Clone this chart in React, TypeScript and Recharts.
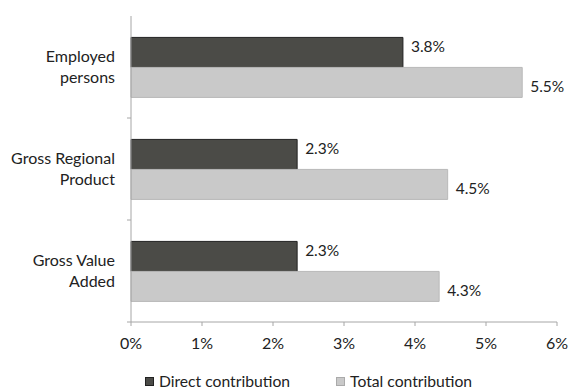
import { Bar, BarChart, LabelList, Legend, XAxis, YAxis } from 'recharts';

const categories = ['Employed\npersons', 'Gross Regional\nProduct', 'Gross Value\nAdded'];
const directContribution = [3.83, 2.34, 2.34];
const totalContribution = [5.51, 4.46, 4.34];
const xTicks = [0, 1, 2, 3, 4, 5, 6];

const data = categories.map((name, i) => ({
	name,
	direct: directContribution[i],
	total: totalContribution[i],
}));

const FONT = 'Lato, "Open Sans", sans-serif';
const TEXT = '#222';
const AXIS = '#a6a6a6';
const DARK = '#4b4b47';
const LIGHT = '#c9c9c9';

function CategoryTick(props: any) {
	const { x, y, payload } = props;
	const lines = String(payload.value).split('\n');
	const off = payload.offset ?? 0;
	return (
		<g>
			<line x1={x + 4} x2={x + 8} y1={y + off} y2={y + off} stroke={AXIS} />
			<text x={x - 8} y={y} textAnchor="end" fill={TEXT} fontSize={16} fontFamily={FONT}>
				{lines.map((l, i) => (
					<tspan key={i} x={x - 8} dy={i === 0 ? -(lines.length - 1) * 10.5 + 5 : 21}>
						{l}
					</tspan>
				))}
			</text>
		</g>
	);
}

function makeLabel(dy: number) {
	return (props: any) => {
		const { x, y, width, height, value } = props;
		return (
			<text
				x={x + width + 8}
				y={y + height / 2 + dy}
				dominantBaseline="central"
				fill={TEXT}
				fontSize={15.5}
				fontFamily={FONT}
			>
				{`${Number(value).toFixed(1)}%`}
			</text>
		);
	};
}

function LegendBox() {
	const items = [
		{ label: 'Direct contribution', color: DARK, border: '#222' },
		{ label: 'Total contribution', color: LIGHT, border: '#aaa' },
	];
	return (
		<div
			style={{
				display: 'flex',
				justifyContent: 'center',
				gap: 46,
				fontFamily: FONT,
				fontSize: 15.7,
				color: TEXT,
				paddingLeft: 60,
				marginTop: 3,
			}}
		>
			{items.map((it) => (
				<div key={it.label} style={{ display: 'flex', alignItems: 'center', gap: 5 }}>
					<span
						style={{
							display: 'inline-block',
							width: 7,
							height: 7,
							background: it.color,
							border: `1px solid ${it.border}`,
						}}
					/>
					<span>{it.label}</span>
				</div>
			))}
		</div>
	);
}

export default function App() {
	return (
		<div style={{ position: 'absolute', left: 0, top: 0, background: '#fff' }}>
			<BarChart
				width={569}
				height={389}
				data={data}
				layout="vertical"
				margin={{ top: 16, right: 12, bottom: 0, left: 0 }}
				barGap={0}
				barCategoryGap="21%"
			>
				<XAxis
					type="number"
					domain={[0, 6]}
					ticks={xTicks}
					tickFormatter={(v: number) => `${v}%`}
					tick={{ fill: TEXT, fontSize: 16, fontFamily: FONT }}
					axisLine={{ stroke: AXIS }}
					tickLine={{ stroke: AXIS }}
					tickSize={4}
					tickMargin={12}
					height={47}
				/>
				<YAxis
					type="category"
					dataKey="name"
					width={131}
					axisLine={{ stroke: AXIS }}
					tickLine={false}
					tick={<CategoryTick />}
					interval={0}
				/>
				<Legend verticalAlign="bottom" height={20} content={<LegendBox />} />
				<Bar dataKey="direct" fill={DARK} stroke="#222" strokeWidth={1} isAnimationActive={false}>
					<LabelList dataKey="direct" content={makeLabel(-6.5)} />
				</Bar>
				<Bar dataKey="total" fill={LIGHT} stroke="#b8b8b8" strokeWidth={1} isAnimationActive={false}>
					<LabelList dataKey="total" content={makeLabel(4)} />
				</Bar>
			</BarChart>
		</div>
	);
}
